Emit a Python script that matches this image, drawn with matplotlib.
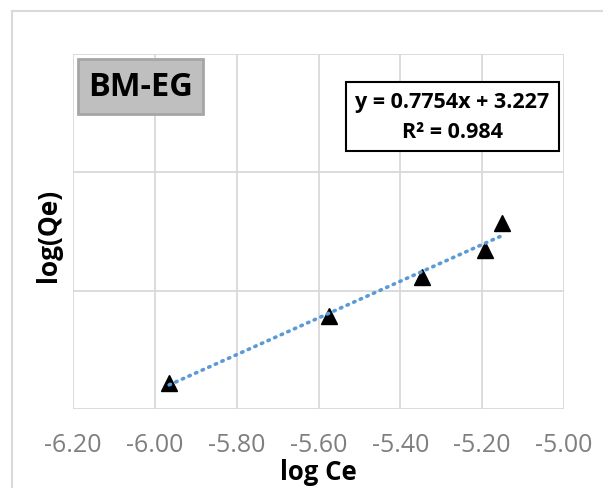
import numpy as np
import matplotlib
matplotlib.use("Agg")
import matplotlib.pyplot as plt
from matplotlib.patches import Rectangle

plt.rcParams["font.family"] = ["Open Sans", "DejaVu Sans"]

# ----- data -----
log_ce = [-5.965, -5.574, -5.347, -5.193, -5.151]
log_qe = [-1.390, -1.106, -0.944, -0.830, -0.713]

# trendline shown in the chart
slope = 0.7754
intercept = 3.227
r2 = 0.984

x_ticks = [-6.2, -6.0, -5.8, -5.6, -5.4, -5.2, -5.0]
y_grid = [-1.5, -1.0, -0.5, 0.0]

W, H = 603, 488
fig = plt.figure(figsize=(W / 100, H / 100), dpi=100)

# light outer frame of the chart area
fig.patches.append(Rectangle((12 / W, -0.1), 1.0, 1 - 11 / H + 0.1,
                             transform=fig.transFigure, fill=False,
                             edgecolor="#d9d9d9", linewidth=1.5))

ax = fig.add_axes([73 / W, 1 - 409 / H, (564 - 73) / W, (409 - 54) / H])
ax.set_xlim(x_ticks[0], x_ticks[-1])
ax.set_ylim(y_grid[0], y_grid[-1])
ax.set_xticks(x_ticks)
ax.set_xticklabels([f"{t:.2f}" for t in x_ticks])
ax.set_yticks(y_grid)
ax.set_yticklabels([])
ax.grid(True, color="#d9d9d9", linewidth=1.3)
ax.set_axisbelow(True)
for s in ax.spines.values():
    s.set_visible(False)
ax.tick_params(length=0, labelsize=18, labelcolor="#7f7f7f", pad=17)

# points
ax.plot(log_ce, log_qe, linestyle="none", marker="^", markersize=12,
        color="black", zorder=3)

# linear trendline over the data range
xs = np.array([min(log_ce), max(log_ce)])
ax.plot(xs, slope * xs + intercept, linestyle=(0, (0.4, 1.6)),
        dash_capstyle="round", linewidth=2.6, color="#5b9bd5", zorder=4)

ax.set_xlabel("log Ce", fontsize=18.5, fontweight="bold")
ax.xaxis.label.set_va("baseline")
ax.xaxis.set_label_coords(0.5, (409 - 480) / 355)
ax.set_ylabel("log(Qe)", fontsize=19, fontweight="bold")
ax.yaxis.label.set_va("center")
ax.yaxis.set_label_coords((49 - 73) / 491, 0.49)

# "BM-EG" label box
fig.patches.append(Rectangle((78 / W, 1 - 114 / H), 125 / W, 55 / H,
                             transform=fig.transFigure, facecolor="#bfbfbf",
                             edgecolor="#a6a6a6", linewidth=2, zorder=5))
fig.text(140.5 / W, 1 - 87 / H, "BM-EG", fontsize=23.5, fontweight="bold",
         ha="center", va="center", zorder=6)

# equation box
fig.patches.append(Rectangle((346 / W, 1 - 151 / H), 213 / W, 69 / H,
                             transform=fig.transFigure, facecolor="white",
                             edgecolor="black", linewidth=1.5, zorder=5))
fig.text(452.5 / W, 1 - 102 / H, f"y = {slope}x + {intercept}", fontsize=15.5,
         fontweight="bold", ha="center", va="center", zorder=6)
fig.text(452.5 / W, 1 - 132 / H, f"R² = {r2}", fontsize=15.5,
         fontweight="bold", ha="center", va="center", zorder=6)

fig.savefig("out.png", dpi=100)
